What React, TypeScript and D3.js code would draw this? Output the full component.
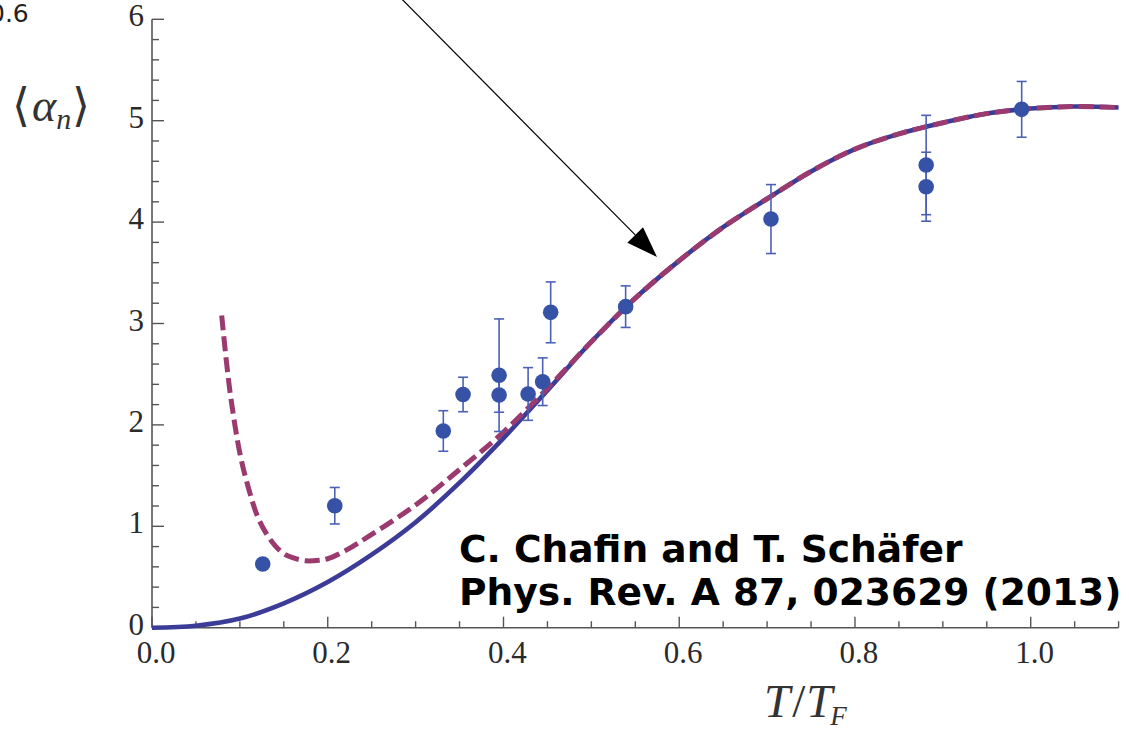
import React from "react";
import * as d3 from "d3";

// ---- data ----
const xTickValues = [0, 0.2, 0.4, 0.6, 0.8, 1.0];
const xTickLabels = ["0.0", "0.2", "0.4", "0.6", "0.8", "1.0"];
const yTickValues = [0, 1, 2, 3, 4, 5, 6];
const yTickLabels = ["0", "1", "2", "3", "4", "5", "6"];

// measured points
const tempRatio = [0.126, 0.208, 0.3315, 0.354, 0.395, 0.395, 0.428, 0.4446, 0.4537, 0.539, 0.7044, 0.881, 0.881, 0.9897];
const alphaMean = [0.628, 1.203, 1.94, 2.3, 2.49, 2.295, 2.305, 2.426, 3.11, 3.166, 4.03, 4.563, 4.349, 5.112];
const alphaErr = [0, 0.18, 0.2, 0.17, 0.555, 0.17, 0.26, 0.235, 0.3, 0.205, 0.34, 0.49, 0.34, 0.275];

// solid theory curve
const solidX = [0, 0.05, 0.1, 0.15, 0.2, 0.25, 0.3, 0.35, 0.4, 0.45, 0.5, 0.55, 0.6, 0.65, 0.7, 0.75, 0.8, 0.85, 0.9, 0.95, 1.0, 1.05, 1.1];
const solidY = [0, 0.02, 0.09, 0.24, 0.45, 0.72, 1.04, 1.43, 1.87, 2.34, 2.82, 3.25, 3.62, 3.95, 4.23, 4.5, 4.72, 4.87, 4.98, 5.07, 5.12, 5.14, 5.13];

// dashed theory curve
const dashX = [0.0793, 0.085, 0.09, 0.1, 0.11, 0.12, 0.13, 0.14, 0.15, 0.16, 0.175, 0.19, 0.2, 0.22, 0.25, 0.3, 0.35, 0.4, 0.45, 0.5, 0.55, 0.6, 0.65, 0.7, 0.75, 0.8, 0.85, 0.9, 0.95, 1.0, 1.05, 1.1];
const dashY = [3.08, 2.6, 2.25, 1.72, 1.37, 1.1, 0.93, 0.81, 0.73, 0.69, 0.66, 0.665, 0.68, 0.76, 0.92, 1.21, 1.56, 1.93, 2.36, 2.82, 3.25, 3.62, 3.95, 4.23, 4.5, 4.72, 4.87, 4.98, 5.07, 5.12, 5.14, 5.13];

// arrow annotation (data coords)
const arrowStart = [0.25, 6.5];
const arrowTip = [0.5747, 3.656];

const W = 1129;
const H = 731;

export default function App() {
  const x = d3.scaleLinear().domain([0, 1.1]).range([152, 1118.6]);
  const y = d3.scaleLinear().domain([0, 6]).range([627.7, 19.3]);

  const line = d3
    .line<[number, number]>()
    .x((d) => x(d[0]))
    .y((d) => y(d[1]))
    .curve(d3.curveCatmullRom.alpha(0.5));

  const solidPts: [number, number][] = solidX.map((v, i) => [v, solidY[i]]);
  const dashPts: [number, number][] = dashX.map((v, i) => [v, dashY[i]]);

  const xMinor = d3.range(0, 1.1001, 0.05);
  const yMinor = d3.range(0, 6.0001, 0.2);

  const axisColor = "#555";
  const labelColor = "#2a2a2a";
  const serif = "'Liberation Serif', 'Times New Roman', serif";

  // arrow head geometry
  const tx = x(arrowTip[0]);
  const ty = y(arrowTip[1]);
  const sx = x(arrowStart[0]);
  const sy = y(arrowStart[1]);
  const ang = Math.atan2(ty - sy, tx - sx);
  const hl = 31;
  const hw = 11;
  const bx = tx - hl * Math.cos(ang);
  const by = ty - hl * Math.sin(ang);
  const p1 = [bx + hw * Math.sin(ang), by - hw * Math.cos(ang)];
  const p2 = [bx - hw * Math.sin(ang), by + hw * Math.cos(ang)];

  return (
    <svg
      width={W}
      height={H}
      style={{ position: "absolute", left: 0, top: 0, background: "#fff" }}
    >
      <rect x={0} y={0} width={W} height={H} fill="#fff" />
      {/* stray label from neighbouring panel */}
      <text x={-11} y={22} fontFamily="'DejaVu Sans', sans-serif" fontSize={25} fill="#222">
        0.6
      </text>

      {/* axes */}
      <line x1={x(0)} x2={x(1.1)} y1={y(0)} y2={y(0)} stroke={axisColor} strokeWidth={1.6} />
      <line x1={x(0)} x2={x(0)} y1={y(0)} y2={y(6)} stroke={axisColor} strokeWidth={1.6} />
      {xMinor.map((v, i) => {
        const major = Math.abs(v / 0.2 - Math.round(v / 0.2)) < 1e-6;
        return (
          <line
            key={"xt" + i}
            x1={x(v)}
            x2={x(v)}
            y1={y(0)}
            y2={y(0) - (major ? 11 : 6.5)}
            stroke={axisColor}
            strokeWidth={1.4}
          />
        );
      })}
      {yMinor.map((v, i) => {
        const major = Math.abs(v - Math.round(v)) < 1e-6;
        return (
          <line
            key={"yt" + i}
            x1={x(0)}
            x2={x(0) + (major ? 12 : 7)}
            y1={y(v)}
            y2={y(v)}
            stroke={axisColor}
            strokeWidth={1.4}
          />
        );
      })}
      {xTickValues.map((v, i) => (
        <text
          key={"xl" + i}
          x={x(v) + 4}
          y={y(0) + 35}
          textAnchor="middle"
          fontFamily={serif}
          fontSize={31}
          fill={labelColor}
        >
          {xTickLabels[i]}
        </text>
      ))}
      {yTickValues.map((v, i) => (
        <text
          key={"yl" + i}
          x={x(0) - 8}
          y={y(v) + 7}
          textAnchor="end"
          fontFamily={serif}
          fontSize={31}
          fill={labelColor}
        >
          {yTickLabels[i]}
        </text>
      ))}

      {/* axis titles */}
      <text x={12} y={121} fontFamily={serif} fontSize={46} fill="#333">
        <tspan>⟨</tspan>
        <tspan fontStyle="italic" dx={2}>α</tspan>
        <tspan fontStyle="italic" fontSize={30} dy={8}>n</tspan>
        <tspan dy={-8} dx={1}>⟩</tspan>
      </text>
      <text x={764} y={717} fontFamily={serif} fontSize={47} fill="#333" fontStyle="italic">
        <tspan>T</tspan>
        <tspan fontStyle="normal" dx={2}>/</tspan>
        <tspan dx={1}>T</tspan>
        <tspan fontSize={27} dy={8} dx={-2}>F</tspan>
      </text>

      {/* curves */}
      <path d={line(solidPts) || ""} fill="none" stroke="#3b3c97" strokeWidth={4.6} strokeLinecap="butt" />
      <path
        d={line(dashPts) || ""}
        fill="none"
        stroke="#9a3a6f"
        strokeWidth={5}
        strokeDasharray="15,6"
      />

      {/* error bars */}
      {tempRatio.map((v, i) =>
        alphaErr[i] > 0 ? (
          <g key={"eb" + i} stroke="#4a61b6" strokeWidth={1.6}>
            <line x1={x(v)} x2={x(v)} y1={y(alphaMean[i] - alphaErr[i])} y2={y(alphaMean[i] + alphaErr[i])} />
            <line x1={x(v) - 5} x2={x(v) + 5} y1={y(alphaMean[i] - alphaErr[i])} y2={y(alphaMean[i] - alphaErr[i])} />
            <line x1={x(v) - 5} x2={x(v) + 5} y1={y(alphaMean[i] + alphaErr[i])} y2={y(alphaMean[i] + alphaErr[i])} />
          </g>
        ) : null
      )}
      {/* points */}
      {tempRatio.map((v, i) => (
        <circle key={"pt" + i} cx={x(v)} cy={y(alphaMean[i])} r={7.8} fill="#3552a7" />
      ))}

      {/* arrow */}
      <line x1={sx} y1={sy} x2={bx} y2={by} stroke="#000" strokeWidth={1.2} />
      <polygon points={`${tx},${ty} ${p1[0]},${p1[1]} ${p2[0]},${p2[1]}`} fill="#000" />

      {/* citation */}
      <g fontFamily="'DejaVu Sans', sans-serif" fontWeight="bold" fontSize={37.6} fill="#000">
        <text x={459} y={562}>C. Chafin and T. Schäfer</text>
        <text x={459} y={605}>Phys. Rev. A 87, 023629 (2013)</text>
      </g>
    </svg>
  );
}
